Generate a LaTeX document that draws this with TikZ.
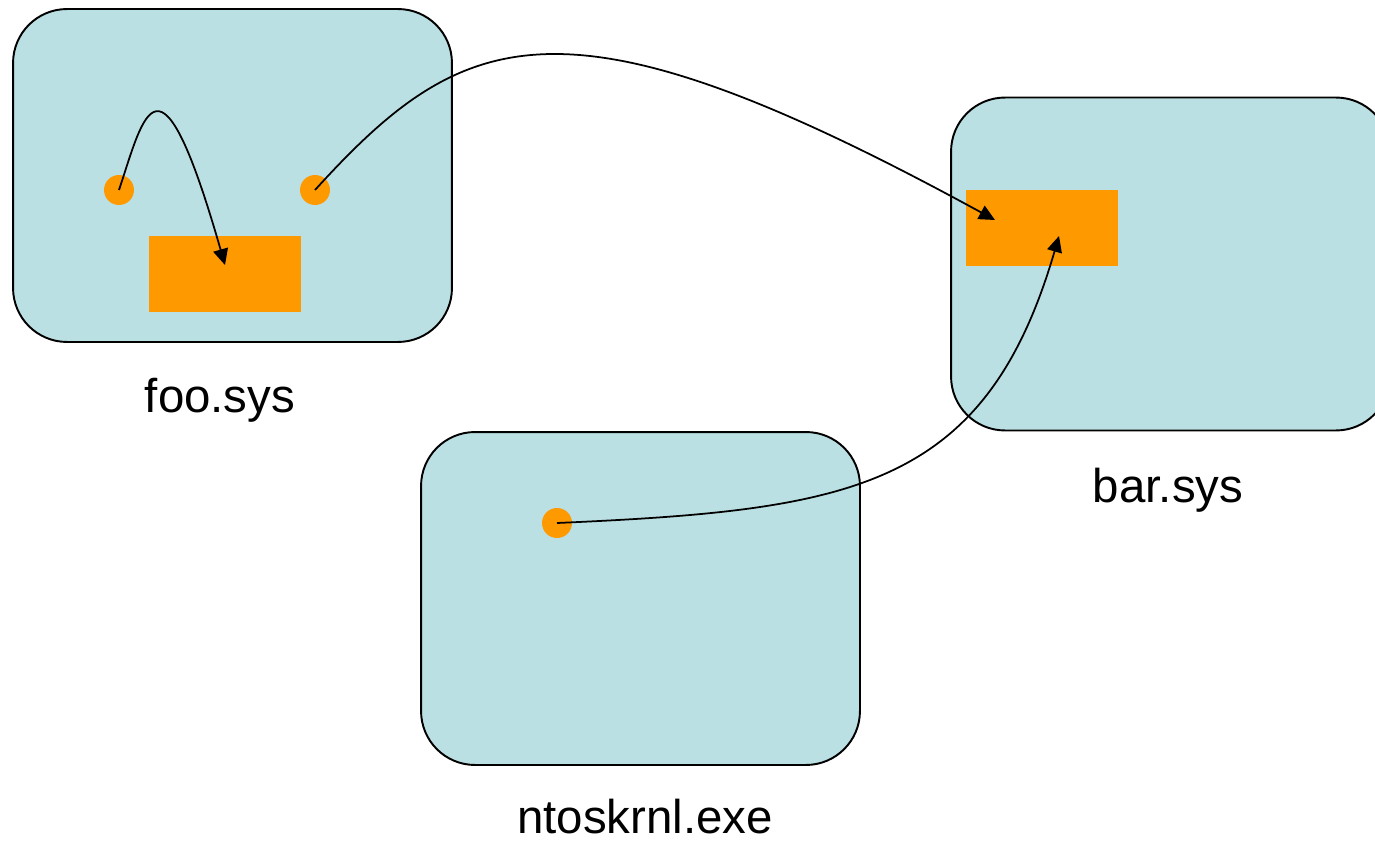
\documentclass[tikz,border=0pt]{standalone}
\usepackage{fontspec}
\setmainfont{Liberation Sans}
\usetikzlibrary{arrows.meta}
\definecolor{modfill}{RGB}{187,224,227}
\definecolor{fnorange}{RGB}{255,153,0}

\begin{document}
\begin{tikzpicture}[x=0.02cm, y=-0.02cm,
	module/.style={draw=black, line width=1.1pt, fill=modfill, rounded corners=1.08cm,
		minimum width=8.78cm, minimum height=6.66cm, inner sep=0},
	blob/.style={circle, fill=fnorange, minimum size=0.6cm, inner sep=0},
	slot/.style={rectangle, fill=fnorange, minimum width=3.04cm, minimum height=1.52cm, inner sep=0},
	caption/.style={anchor=base, inner sep=0, font=\fontsize{27pt}{32pt}\selectfont},
	call/.style={line width=1pt, -{Triangle[length=0.32cm, width=0.3cm]}}]
			%%%%% START %%%%%
			\useasboundingbox (0, 0) rectangle (1375, 841);
			
			% modules
			\node[module] (foo) at (232.5, 175.5) {};
			\node[module] (bar) at (1170.5, 264) {};
			\node[module] (krnl) at (640.5, 598.5) {};
			
			\node[caption] (foolbl) at (220, 412) {foo.sys};
			\node[caption] (barlbl) at (1168, 502) {bar.sys};
			\node[caption] (krnllbl) at (645, 833) {ntoskrnl.exe};
			
			% call sites and targets
			\node[blob] (foocall) at (119, 190) {};
			\node[blob] (fooimp) at (315, 190) {};
			\node[slot] (foofn) at (225, 274) {};
			
			\node[slot] (barfn) at (1042, 228) {};
			
			\node[blob] (krnlcall) at (557, 523) {};
			
			\coordinate (foofnin) at (225, 265);
			\coordinate (barfnin) at (995, 220);
			\coordinate (barfnup) at (1059, 236);
			
			% calls
			\draw[call] (foocall.center) .. controls (144, 115) and (159, 35) .. (foofnin);
			\draw[call] (fooimp.center) .. controls (465, 25) and (565, -15) .. (barfnin);
			\draw[call] (krnlcall.center) .. controls (850, 510) and (985, 490) .. (barfnup);
			%%%%% END %%%%%
\end{tikzpicture}
\end{document}
